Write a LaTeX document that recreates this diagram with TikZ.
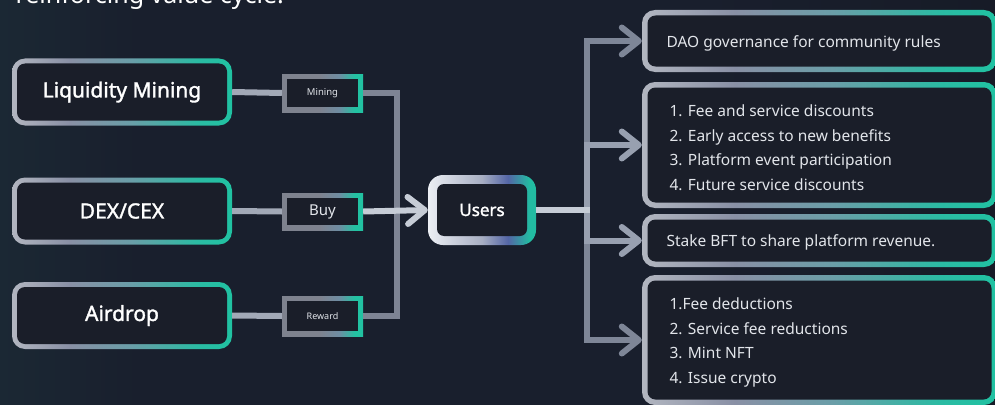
\documentclass[tikz,border=0pt]{standalone}
\usepackage{fontspec}
\setmainfont{Noto Sans}[AutoFakeBold=1.6]
\usetikzlibrary{arrows.meta}

\definecolor{bg}{HTML}{191F2D}
\definecolor{bgL}{HTML}{1B2834}
\definecolor{bgR}{HTML}{171B27}
\definecolor{boxfill}{HTML}{1A1E29}
\definecolor{eA}{HTML}{B2B6C0}
\definecolor{eB}{HTML}{8990A5}
\definecolor{eC}{HTML}{6A9EA8}
\definecolor{eD}{HTML}{2BBBA3}
\definecolor{eE}{HTML}{20C2A2}
\definecolor{uA}{HTML}{ECEFF4}
\definecolor{uB}{HTML}{A7AEC2}
\definecolor{uC}{HTML}{5466A6}
\definecolor{uD}{HTML}{22BCA2}
\definecolor{lA}{HTML}{7E828E}
\definecolor{lB}{HTML}{6F8CA2}
\definecolor{lC}{HTML}{22C2A2}
\definecolor{txt}{HTML}{E2E5EA}
\definecolor{lineL}{HTML}{A2A9B7}
\definecolor{lineV}{HTML}{7E8494}
\definecolor{lineW}{HTML}{C6CCD6}
\definecolor{lineR}{HTML}{7E8697}
\definecolor{lineRL}{HTML}{98A0B0}

\pgfdeclarehorizontalshading{bgshade}{100bp}{color(0bp)=(bgL); color(25bp)=(bgL); color(32bp)=(bg); color(60bp)=(bg); color(75bp)=(bgR); color(100bp)=(bgR)}
\pgfdeclarehorizontalshading{edgeshade}{100bp}{color(0bp)=(eA); color(25bp)=(eA); color(38bp)=(eB); color(52bp)=(eC); color(67bp)=(eD); color(75bp)=(eE); color(100bp)=(eE)}
\pgfdeclarehorizontalshading{usershade}{100bp}{color(0bp)=(uA); color(25bp)=(uA); color(50bp)=(uB); color(62bp)=(uC); color(72bp)=(uD); color(75bp)=(uD); color(100bp)=(uD)}
\pgfdeclarehorizontalshading{labshade}{100bp}{color(0bp)=(lA); color(25bp)=(lA); color(48bp)=(lA); color(60bp)=(lB); color(70bp)=(lC); color(75bp)=(lC); color(100bp)=(lC)}

\tikzset{
  gbox/.style={shade, shading=edgeshade, rounded corners=13pt, inner sep=0pt,
    path picture={\fill[boxfill, rounded corners=8pt]
      ([xshift=#1,yshift=-#1]path picture bounding box.north west) rectangle
      ([xshift=-#1,yshift=#1]path picture bounding box.south east);}},
  gbox/.default=5pt,
  ubox/.style={shade, shading=usershade, rounded corners=15pt, inner sep=0pt,
    path picture={\fill[boxfill, rounded corners=7pt]
      ([xshift=9pt,yshift=-9pt]path picture bounding box.north west) rectangle
      ([xshift=-9pt,yshift=9pt]path picture bounding box.south east);}},
  lbox/.style={shade, shading=labshade, inner sep=0pt, text=txt,
    path picture={\fill[boxfill]
      ([xshift=5pt,yshift=-5pt]path picture bounding box.north west) rectangle
      ([xshift=-5pt,yshift=5pt]path picture bounding box.south east);}},
  srcbox/.style={gbox, minimum width=220pt, minimum height=67pt, text=white,
    font=\fontsize{21}{24}\selectfont\bfseries},
  rbox/.style={gbox=5.5pt, minimum width=355pt},
  rtext/.style={anchor=west, text=txt, align=left,
    font=\fontsize{15.5}{24.5}\selectfont},
  conL/.style={draw=lineL, line width=6pt},
  conV/.style={draw=lineV, line width=6pt},
  conW/.style={draw=lineW, line width=6pt},
  conR/.style={draw=lineR, line width=6pt},
  conRL/.style={draw=lineRL, line width=6pt},
  arr/.style={-{Straight Barb[length=17pt,width=27pt,round]}},
}

\begin{document}
\begin{tikzpicture}[x=1pt,y=-1pt]
\useasboundingbox (0,0) rectangle (995,404);
\clip (0,0) rectangle (995,404);
\shade[shading=bgshade] (0,0) rectangle (995,404);

\node[anchor=base west, text=white, font=\fontsize{25}{28}\selectfont] (title) at (12,3.5) {reinforcing value cycle.};

% source boxes
\node[srcbox] (lm) at (122,92) {Liquidity Mining};
\node[srcbox] (dex) at (122,211) {DEX/CEX};
\node[srcbox] (air) at (122,315.5) {Airdrop};

% label boxes
\node[lbox, minimum width=81pt, minimum height=38pt, font=\fontsize{9.5}{11}\selectfont] (mlab) at (322.5,93) {Mining};
\node[lbox, minimum width=81pt, minimum height=37pt, font=\fontsize{15}{17}\selectfont] (blab) at (322.5,211.5) {Buy};
\node[lbox, minimum width=81pt, minimum height=40pt, font=\fontsize{9}{11}\selectfont] (rlab) at (322.5,316) {Reward};

% users
\node[ubox, minimum width=108pt, minimum height=70pt, text=white, font=\fontsize{17}{19}\selectfont\bfseries] (users) at (482,210) {Users};

% right boxes
\node[rbox, minimum height=62pt] (dao) at (819.5,41) {};
\node[rbox, minimum height=126pt] (l1) at (819.5,145) {};
\node[rbox, minimum height=53pt] (stake) at (819.5,240.5) {};
\node[rbox, minimum height=130pt] (l2) at (819.5,340) {};

\node[rtext] (daot) at (663,43) {DAO governance for community rules};
\node[rtext] (l1t) at (666,147.5) {1. Fee and service discounts\\2. Early access to new benefits\\3. Platform event participation\\4. Future service discounts};
\node[rtext] (staket) at (663,242) {Stake BFT to share platform revenue.};
\node[rtext] (l2t) at (666,342.5) {1.Fee deductions\\2. Service fee reductions\\3. Mint NFT\\4. Issue crypto};

% junctions
\coordinate (jl) at (397,211);
\coordinate (jr) at (587,210);

% connectors
\draw[conL] (lm.east) -- (mlab.west);
\draw[conL] (dex.east) -- (blab.west);
\draw[conL] (air.east) -- (rlab.west);
\draw[conV] (mlab.east) -| (jl) |- (rlab.east);
\draw[conW, arr] (blab.east) -- (users.west);

\draw[conR, arr] (jr) |- (dao.west);
\draw[conR, arr] (jr) |- (l2.west);
\draw[conRL, arr] (jr) |- (l1.west);
\draw[conRL, arr] (jr) |- (stake.west);
\draw[conW] (users.east) -- ([xshift=3pt]jr);
\end{tikzpicture}
\end{document}
